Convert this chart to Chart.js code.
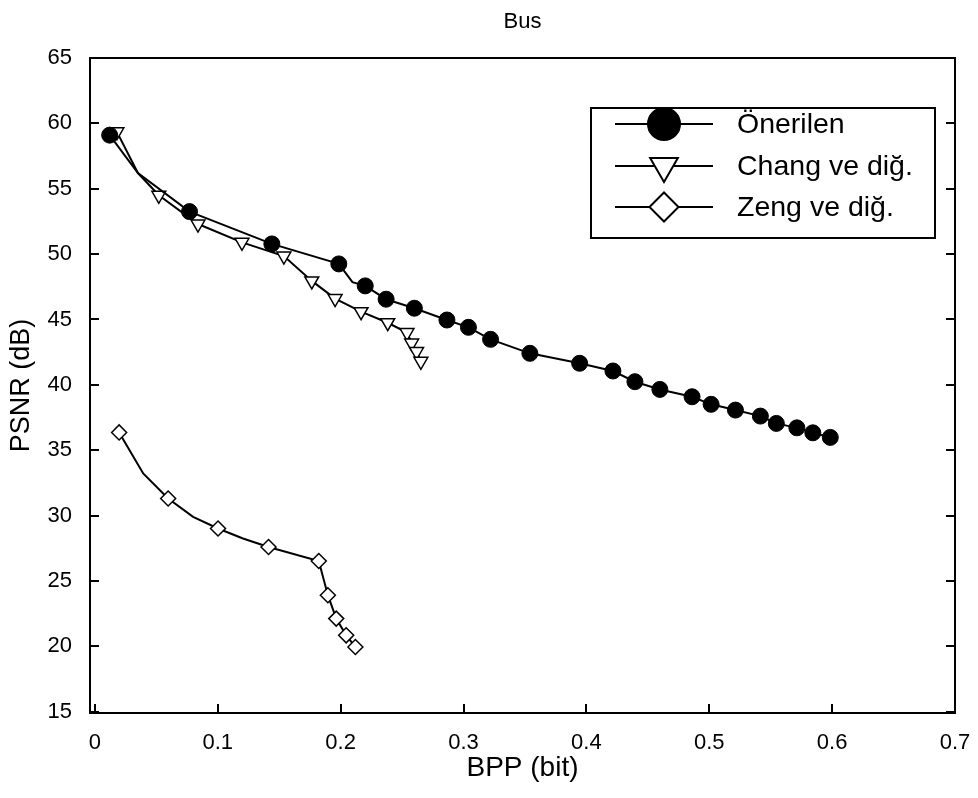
<!DOCTYPE html>
<html>
<head>
<meta charset="utf-8">
<title>Bus</title>
<script src="https://cdn.jsdelivr.net/npm/chart.js"></script>
<style>
  html, body { margin: 0; padding: 0; background: #fff; }
  #wrap { width: 978px; height: 798px; }
</style>
</head>
<body>
<div id="wrap"><canvas id="psnr-chart" width="978" height="798"></canvas></div>
<script>
// Rate–distortion curves for the "Bus" sequence
const oneriBpp  = [0.012, 0.035, 0.077, 0.144, 0.1985, 0.2096, 0.220, 0.237, 0.260, 0.2865, 0.304, 0.322, 0.354, 0.3945, 0.4216, 0.4395, 0.4598, 0.486, 0.5015, 0.5213, 0.5416, 0.5546, 0.5713, 0.5843, 0.5985];
const oneriPsnr = [59.1, 56.2, 53.25, 50.78, 49.25, 47.85, 47.57, 46.55, 45.86, 44.96, 44.40, 43.48, 42.41, 41.65, 41.06, 40.24, 39.65, 39.09, 38.51, 38.07, 37.61, 37.05, 36.71, 36.33, 35.98];

const changBpp  = [0.0179, 0.035, 0.052, 0.0839, 0.1197, 0.1538, 0.1765, 0.1955, 0.2166, 0.2383, 0.254, 0.2578, 0.2618, 0.2653];
const changPsnr = [59.35, 56.2, 54.5, 52.3, 50.9, 49.85, 47.95, 46.6, 45.6, 44.75, 44.0, 43.2, 42.55, 41.8];

const zengBpp  = [0.0197, 0.0393, 0.0596, 0.0799, 0.1002, 0.1205, 0.1413, 0.1822, 0.1896, 0.1964, 0.2045, 0.212];
const zengPsnr = [36.36, 33.22, 31.31, 29.9, 29.01, 28.25, 27.6, 26.53, 23.91, 22.12, 20.84, 19.95];

const seriesNames = ['Önerilen', 'Chang ve diğ.', 'Zeng ve diğ.'];

const bppTicks = [0, 0.1, 0.2, 0.3, 0.4, 0.5, 0.6, 0.7];
const bppTickLabels = ['0', '0.1', '0.2', '0.3', '0.4', '0.5', '0.6', '0.7'];
const psnrTicks = [15, 20, 25, 30, 35, 40, 45, 50, 55, 60, 65];

// intermediate samples that are plotted on the curve but carry no marker
const oneriPlain = [1, 5];
const changPlain = [1];
const zengPlain = [1, 3, 5];

const FONT = 'Liberation Sans, Arial, Helvetica, sans-serif';

function toPoints(xs, ys) {
    return xs.map((x, i) => ({ x: x, y: ys[i] }));
}

function markerRadius(plain, r) {
    return ctx => plain.includes(ctx.dataIndex) ? 0 : r;
}

// keep label overhang from shrinking the plot area
function noOverhang(scale) {
    scale.paddingLeft = 0;
    scale.paddingRight = 0;
    scale.paddingTop = 0;
    scale.paddingBottom = 0;
}

// frame round the plot area with inward ticks
const frameTicks = {
    id: 'frameTicks',
    beforeDatasetsDraw(chart) {
        const { ctx, chartArea: a, scales: { x, y } } = chart;
        const len = 9;
        ctx.save();
        ctx.strokeStyle = '#000';
        ctx.lineWidth = 2;
        ctx.strokeRect(a.left, a.top, a.right - a.left, a.bottom - a.top);
        ctx.beginPath();
        bppTicks.forEach(v => {
            const px = Math.round(x.getPixelForValue(v));
            ctx.moveTo(px, a.bottom);
            ctx.lineTo(px, a.bottom - len);
        });
        psnrTicks.forEach(v => {
            const py = Math.round(y.getPixelForValue(v));
            ctx.moveTo(a.left, py);
            ctx.lineTo(a.left + len, py);
            ctx.moveTo(a.right, py);
            ctx.lineTo(a.right - len, py);
        });
        ctx.stroke();
        ctx.restore();
    }
};

function drawMarker(ctx, style, cx, cy, r) {
    ctx.beginPath();
    if (style === 'circle') {
        ctx.arc(cx, cy, r, 0, Math.PI * 2);
        ctx.fillStyle = '#000';
    } else if (style === 'triangle') {
        // pointing down
        for (let k = 0; k < 3; k++) {
            const ang = Math.PI + k * 2 * Math.PI / 3;
            const px = cx + Math.sin(ang) * r;
            const py = cy - Math.cos(ang) * r;
            if (k === 0) ctx.moveTo(px, py); else ctx.lineTo(px, py);
        }
        ctx.closePath();
        ctx.fillStyle = '#fff';
    } else {
        ctx.moveTo(cx - r, cy);
        ctx.lineTo(cx, cy - r);
        ctx.lineTo(cx + r, cy);
        ctx.lineTo(cx, cy + r);
        ctx.closePath();
        ctx.fillStyle = '#fff';
    }
    ctx.fill();
    ctx.stroke();
}

// boxed key in the upper right of the plot
const boxLegend = {
    id: 'boxLegend',
    afterDraw(chart) {
        const { ctx, chartArea: a } = chart;
        const left = a.left + 501, top = a.top + 50, w = 344, h = 130;
        const rows = [16, 58, 99];
        const styles = ['circle', 'triangle', 'diamond'];
        const radii = [16, 16, 14.5];
        ctx.save();
        ctx.fillStyle = '#fff';
        ctx.fillRect(left, top, w, h);
        ctx.strokeStyle = '#000';
        ctx.lineWidth = 2;
        ctx.strokeRect(left, top, w, h);
        ctx.font = '28.5px ' + FONT;
        ctx.textBaseline = 'middle';
        rows.forEach((dy, i) => {
            const yy = top + dy;
            ctx.strokeStyle = '#000';
            ctx.lineWidth = 2;
            ctx.beginPath();
            ctx.moveTo(left + 24, yy);
            ctx.lineTo(left + 122, yy);
            ctx.stroke();
            drawMarker(ctx, styles[i], left + 73, yy, radii[i]);
            ctx.fillStyle = '#000';
            ctx.fillText(seriesNames[i], left + 146, yy + 1);
        });
        ctx.restore();
    }
};

const canvas = document.getElementById('psnr-chart');
new Chart(canvas, {
    type: 'line',
    data: {
        datasets: [{
            label: seriesNames[0],
            data: toPoints(oneriBpp, oneriPsnr),
            borderColor: '#000',
            borderWidth: 2,
            pointStyle: 'circle',
            pointRadius: markerRadius(oneriPlain, 8),
            pointBackgroundColor: '#000',
            pointBorderColor: '#000',
            pointBorderWidth: 1
        },
        {
            label: seriesNames[1],
            data: toPoints(changBpp, changPsnr),
            borderColor: '#000',
            borderWidth: 2,
            pointStyle: 'triangle',
            rotation: 180,
            pointRadius: markerRadius(changPlain, 8),
            pointBackgroundColor: '#fff',
            pointBorderColor: '#000',
            pointBorderWidth: 1.5
        },
        {
            label: seriesNames[2],
            data: toPoints(zengBpp, zengPsnr),
            borderColor: '#000',
            borderWidth: 2,
            pointStyle: 'rectRot',
            pointRadius: markerRadius(zengPlain, 7.5),
            pointBackgroundColor: '#fff',
            pointBorderColor: '#000',
            pointBorderWidth: 1.5
        }]
    },
    options: {
        responsive: false,
        animation: false,
        events: [],
        layout: {
            padding: { left: 0, right: 23, top: 0, bottom: 0 }
        },
        scales: {
            x: {
                type: 'linear',
                min: -0.004,
                max: 0.7,
                afterFit: scale => { scale.height = 85; noOverhang(scale); },
                afterBuildTicks: scale => { scale.ticks = bppTicks.map(v => ({ value: v })); },
                grid: { display: false, drawTicks: false },
                border: { display: false },
                ticks: {
                    color: '#000',
                    padding: 17,
                    maxRotation: 0,
                    font: { family: FONT, size: 22 },
                    callback: (value, index) => bppTickLabels[index]
                },
                title: {
                    display: true,
                    text: 'BPP (bit)',
                    color: '#000',
                    font: { family: FONT, size: 28 },
                    padding: { top: 0, bottom: 13.2 }
                }
            },
            // carries only the chart title, centred over the plot
            top: {
                type: 'linear',
                position: 'top',
                min: -0.004,
                max: 0.7,
                afterFit: scale => { scale.height = 58; noOverhang(scale); },
                grid: { display: false, drawTicks: false },
                border: { display: false },
                ticks: { display: false },
                title: {
                    display: true,
                    text: 'Bus',
                    color: '#000',
                    font: { family: FONT, size: 22 },
                    padding: { top: 8.8, bottom: 0 }
                }
            },
            y: {
                type: 'linear',
                min: 14.9,
                max: 65,
                afterFit: scale => { scale.width = 90; noOverhang(scale); },
                afterBuildTicks: scale => { scale.ticks = psnrTicks.map(v => ({ value: v })); },
                grid: { display: false, drawTicks: false },
                border: { display: false },
                ticks: {
                    color: '#000',
                    padding: 18,
                    font: { family: FONT, size: 22 }
                },
                title: {
                    display: true,
                    text: 'PSNR (dB)',
                    color: '#000',
                    font: { family: FONT, size: 27 },
                    padding: { top: 5.8, bottom: 0 }
                }
            }
        },
        plugins: {
            legend: { display: false },
            tooltip: { enabled: false },
            title: { display: false }
        }
    },
    plugins: [frameTicks, boxLegend]
});
</script>
</body>
</html>
